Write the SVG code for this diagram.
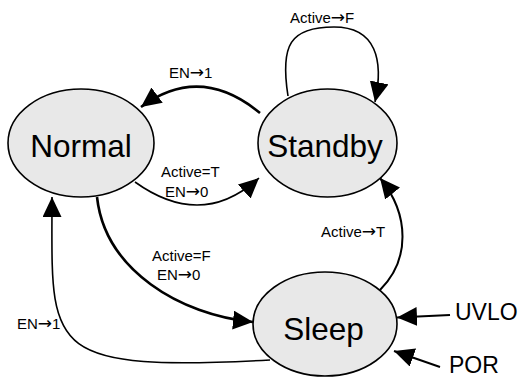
<svg xmlns="http://www.w3.org/2000/svg" width="521" height="378" viewBox="0 0 521 378">
<defs>
<marker id="ah" markerUnits="userSpaceOnUse" markerWidth="22" markerHeight="20" refX="20" refY="9.5" orient="auto">
<path d="M0,0 L20,9.5 L0,19 Z" fill="#000"/>
</marker>
<style>
.node ellipse{fill:#e8e8e8;stroke:#000;stroke-width:1.6}
.node text{font-family:"Liberation Sans",Arial,sans-serif;font-size:31.5px;text-anchor:middle;fill:#000}
.lbl{font-family:"Liberation Sans",Arial,sans-serif;font-size:15px;fill:#000}
.ar{font-family:"DejaVu Sans",sans-serif;font-size:17px}
.big{font-family:"Liberation Sans",Arial,sans-serif;font-size:23px;fill:#000}
.c{fill:none;stroke:#000;marker-end:url(#ah)}
</style>
</defs>
<rect width="521" height="378" fill="#fff"/>
<g id="connectors">
<path class="c" d="M260,113 Q200,63.5 141,107" stroke-width="2.6"/>
<path class="c" d="M288,96 C280,45 290,27 334,27 C376,27 384,60 375,102" stroke-width="1.6"/>
<path class="c" d="M135,182 Q202,230 259,178" stroke-width="1.6"/>
<path class="c" d="M97,197 C105,270 180,315 253,322" stroke-width="2.6"/>
<path class="c" d="M270,360 C40,372 52,350 52,197" stroke-width="1.6"/>
<path class="c" d="M380,290 C410,260 410,215 380,178" stroke-width="2"/>
<path class="c" d="M450,315 L397,317.5" stroke-width="2"/>
<path class="c" d="M440,367 L394,351" stroke-width="2"/>
</g>
<g id="labels">
<text class="lbl" x="169" y="78">EN<tspan class="ar">→</tspan>1</text>
<text class="lbl" x="290" y="23">Active<tspan class="ar">→</tspan>F</text>
<text class="lbl" x="161" y="177">Active=T</text>
<text class="lbl" x="165" y="197">EN<tspan class="ar">→</tspan>0</text>
<text class="lbl" x="152" y="261">Active=F</text>
<text class="lbl" x="157" y="280">EN<tspan class="ar">→</tspan>0</text>
<text class="lbl" x="17" y="329">EN<tspan class="ar">→</tspan>1</text>
<text class="lbl" x="321" y="237">Active<tspan class="ar">→</tspan>T</text>
<text class="big" x="455" y="320">UVLO</text>
<text class="big" x="449" y="373">POR</text>
</g>
<g id="normal" class="node">
<ellipse cx="81" cy="143" rx="73" ry="54"/>
<text x="81" y="157">Normal</text>
</g>
<g id="standby" class="node">
<ellipse cx="327.5" cy="143" rx="69.5" ry="54"/>
<text x="325" y="157">Standby</text>
</g>
<g id="sleep" class="node">
<ellipse cx="325" cy="324" rx="72" ry="52"/>
<text x="323.5" y="340">Sleep</text>
</g>
</svg>
